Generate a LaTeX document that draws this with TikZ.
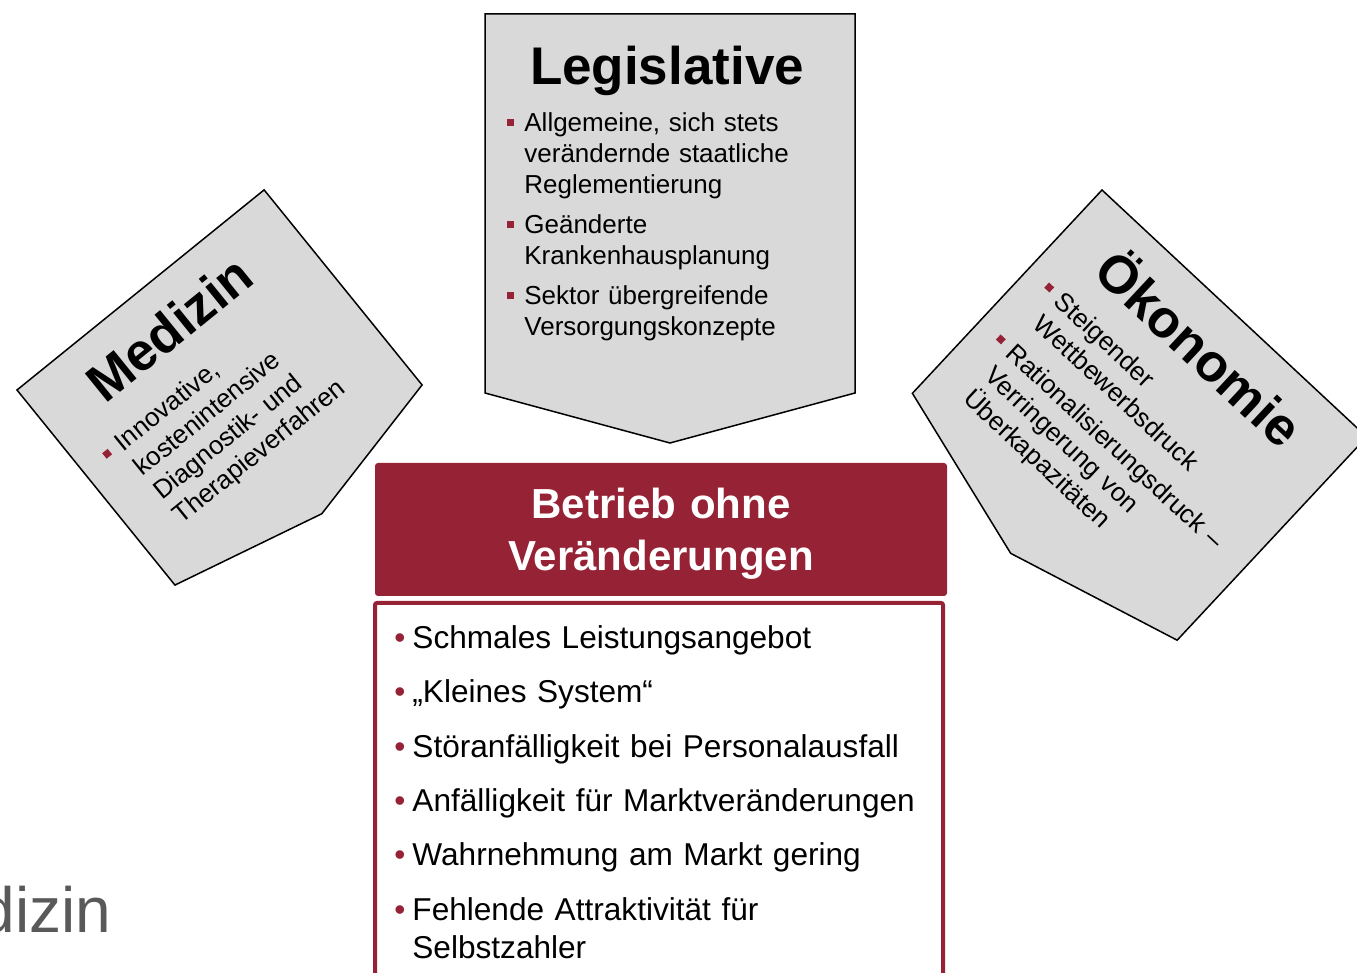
\documentclass[tikz,border=0pt]{standalone}
\usepackage{fontspec}
\setmainfont{Liberation Sans}
\definecolor{crimson}{HTML}{962236}
\definecolor{panelgray}{HTML}{D9D9D9}
\definecolor{titlegray}{HTML}{595959}

% bullet lists for the node texts
\newenvironment{sqlist}{%
  \begin{list}{\textcolor{crimson}{\rule[2.8pt]{3.5pt}{3.5pt}}}{%
    \setlength{\leftmargin}{8.5pt}\setlength{\labelwidth}{3.5pt}%
    \setlength{\labelsep}{5pt}\setlength{\itemsep}{4.5pt}%
    \setlength{\parsep}{0pt}\setlength{\topsep}{0pt}\setlength{\partopsep}{0pt}}}
  {\end{list}}
\newenvironment{dotlist}{%
  \begin{list}{\textcolor{crimson}{\textbullet}}{%
    \setlength{\leftmargin}{9pt}\setlength{\labelwidth}{5.5pt}%
    \setlength{\labelsep}{3.5pt}\setlength{\itemsep}{8.2pt}%
    \setlength{\parsep}{0pt}\setlength{\topsep}{0pt}\setlength{\partopsep}{0pt}}}
  {\end{list}}

\tikzset{
  panel/.style={draw, line width=0.75pt, fill=panelgray},
  paneltitle/.style={font=\fontsize{26.5}{30}\selectfont\bfseries, anchor=base, inner sep=0pt},
  paneltext/.style={font=\fontsize{13}{15.5}\selectfont, anchor=north west, inner sep=0pt,
    align=left, text width=#1},
  paneltext/.default=160pt,
  headbox/.style={fill=crimson, rounded corners=1.5pt, minimum width=286pt, minimum height=66.5pt,
    inner sep=0pt},
  headtext/.style={text=white, font=\fontsize{21}{26}\selectfont\bfseries, align=center,
    text width=280pt, anchor=base, inner sep=0pt},
  listbox/.style={draw=crimson, line width=2pt, rounded corners=1pt},
  listtext/.style={font=\fontsize{15.8}{19}\selectfont, anchor=north west, inner sep=0pt,
    align=left, text width=#1},
  listtext/.default=265pt,
}

\begin{document}
\begin{tikzpicture}[x=0.5pt, y=-0.5pt]
  \useasboundingbox (0,0) rectangle (1357,973);
  \clip (0,0) rectangle (1357,973);

  % Legislative
  \draw[panel] (485,14) -- (855,14) -- (855,393) -- (670,443) -- (485,393) -- cycle;
  \node[paneltitle] (legis) at (667,85) {Legislative};
  \node[paneltext=170pt] (legis-list) at (507,100) {\begin{sqlist}
      \item Allgemeine, sich stets\\ verändernde staatliche\\ Reglementierung
      \item Geänderte\\ Krankenhausplanung
      \item Sektor übergreifende\\ Versorgungskonzepte
    \end{sqlist}};

  % Medizin, tilted left
  \begin{scope}[shift={(17,390)}, rotate=39, every node/.append style={transform shape}]
    \draw[panel] (0,0) -- (318,0) -- (318,251) -- (159,288) -- (0,251) -- cycle;
    \node[paneltitle] (med) at (157,67) {Medizin};
    \node[paneltext=150pt] (med-list) at (26,84) {\begin{sqlist}
        \item Innovative,\\ kostenintensive\\ Diagnostik- und\\ Therapieverfahren
      \end{sqlist}};
  \end{scope}

  % Oekonomie, tilted right
  \begin{scope}[shift={(1102,190)}, rotate=-43, every node/.append style={transform shape}]
    \draw[panel] (0,0) -- (362,0) -- (362,278) -- (181,328) -- (0,278) -- cycle;
    \node[paneltitle] (oek) at (179,69) {Ökonomie};
    \node[paneltext=170pt] (oek-list) at (24,85) {\begin{sqlist}
        \item Steigender\\ Wettbewerbsdruck
        \item Rationalisierungsdruck –\\ Verringerung von\\ Überkapazitäten
      \end{sqlist}};
  \end{scope}

  % central block
  \node[headbox] (head) at (661,529.5) {};
  \node[headtext] (head-text) at (661,519) {Betrieb ohne\\ Veränderungen};
  \draw[listbox] (375,603) rectangle (943,1010);
  \node[listtext] (reasons) at (394,610) {\begin{dotlist}
      \item Schmales Leistungsangebot
      \item „Kleines System“
      \item Störanfälligkeit bei Personalausfall
      \item Anfälligkeit für Marktveränderungen
      \item Wahrnehmung am Markt gering
      \item Fehlende Attraktivität für\\ Selbstzahler
    \end{dotlist}};

  % slide title, cut at the left edge
  \node[anchor=base east, inner sep=0pt, text=titlegray, font=\fontsize{32}{38}\selectfont]
    (slide-title) at (112,932) {Medizin};
\end{tikzpicture}
\end{document}
